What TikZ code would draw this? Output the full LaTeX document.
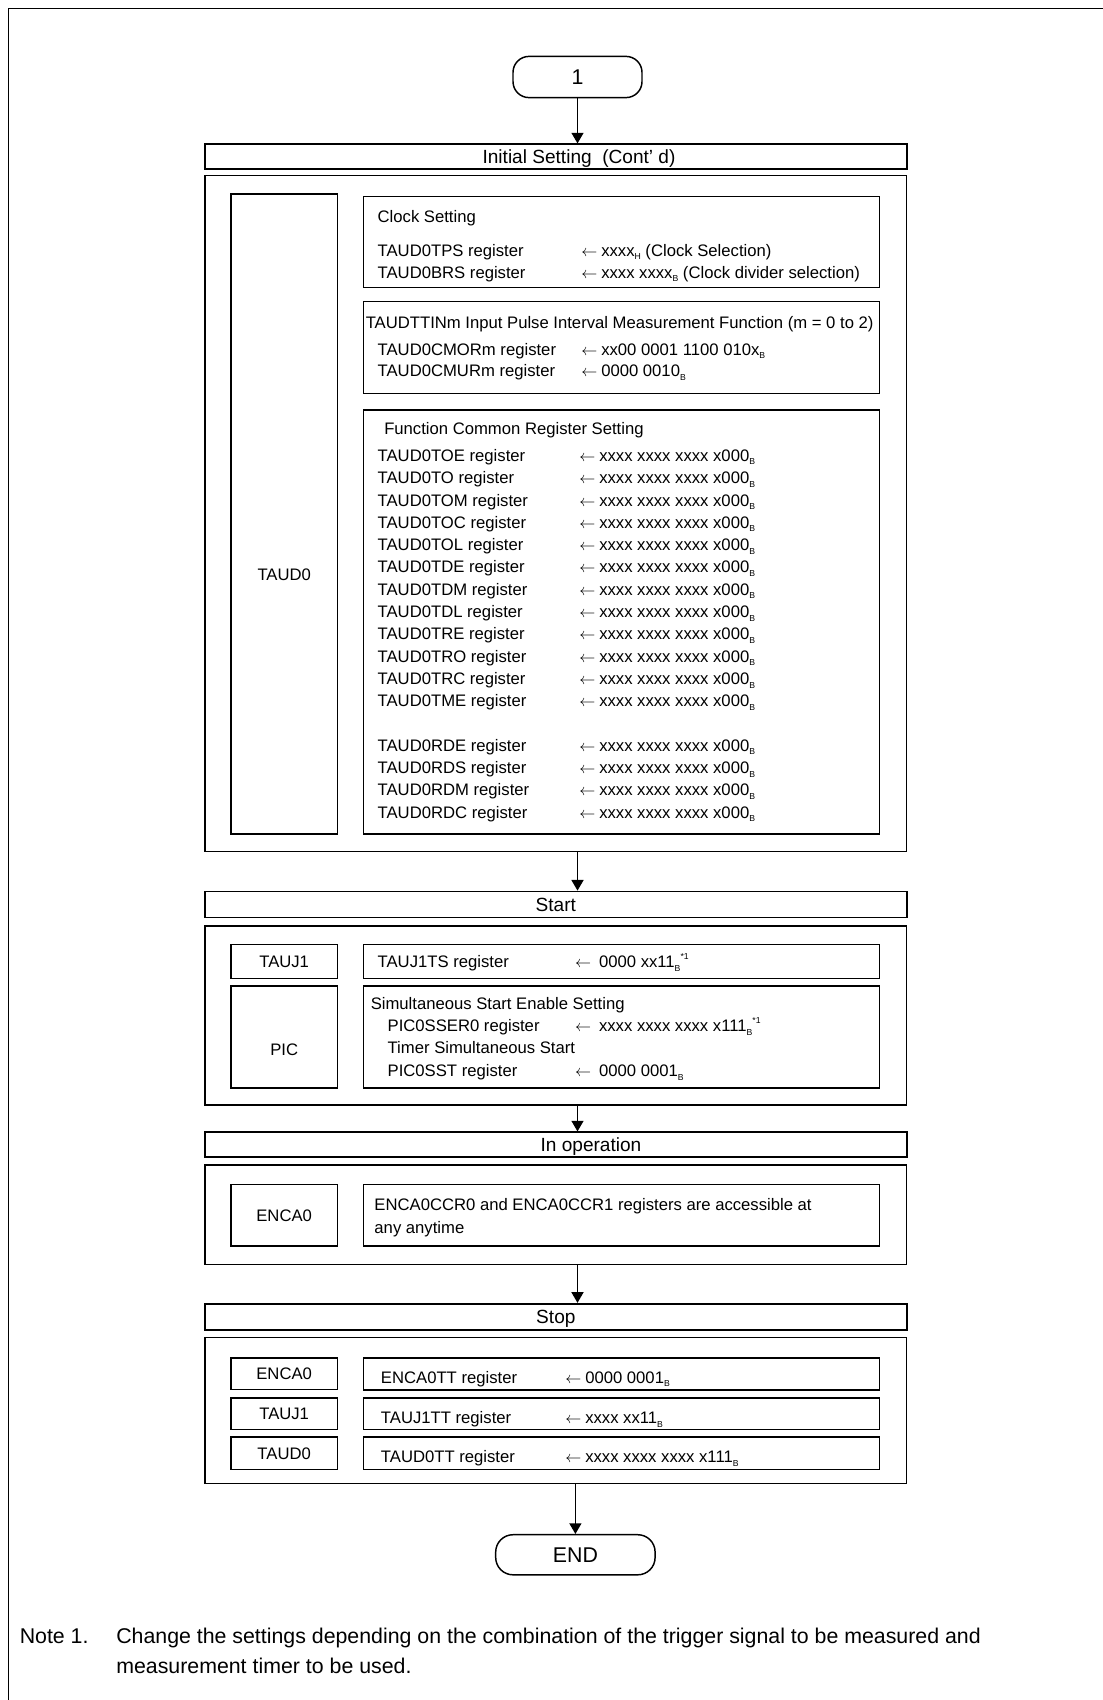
\documentclass[tikz,border=0pt]{standalone}
\usepackage{fontspec}
\setmainfont{Liberation Sans}
\usetikzlibrary{fit,arrows.meta}

\newcommand{\sB}{\raisebox{-0.4ex}{\fontsize{6.5}{6.5}\selectfont B}}
\newcommand{\sH}{\raisebox{-0.4ex}{\fontsize{6.5}{6.5}\selectfont H}}
\newcommand{\nte}{\raisebox{1.0ex}{\fontsize{6.5}{6.5}\selectfont *1}}
\newcommand{\la}{$\leftarrow$\hspace{3pt}}

\tikzset{
 bx/.style={draw, line width=1.1pt, inner sep=0pt},
 hd/.style={draw, line width=1.3pt, inner sep=0pt},
 hdt/.style={inner sep=0pt, font=\fontsize{14.3}{16}\selectfont, text height=10.2pt, text depth=0pt},
 lbt/.style={inner sep=0pt, font=\fontsize{12.5}{14}\selectfont, text height=8.95pt, text depth=0pt},
 tx/.style={anchor=west, inner sep=0pt, font=\fontsize{12.5}{14}\selectfont, text height=8.95pt, text depth=0pt},
 notetx/.style={anchor=west, inner sep=0pt, font=\fontsize{16}{18}\selectfont, text height=11.5pt, text depth=0pt},
 term/.style={draw, line width=1.1pt, rounded corners=12pt, inner sep=0pt},
 termt/.style={inner sep=0pt, font=\fontsize{16}{18}\selectfont, text height=11.5pt, text depth=0pt},
 arr/.style={line width=1.1pt, -{Triangle[length=8pt,width=9pt]}},
}

\begin{document}
\begin{tikzpicture}[x=0.75pt,y=-0.75pt]
\useasboundingbox (0,0) rectangle (1103,1700);
\draw[line width=1.1pt] (8.7,1720) -- (8.7,8.7) -- (1120,8.7);

% start terminal
\node[term, fit={(513,56.4) (642,97.6)}] (t1) {};
\node[termt] (t1t) at (t1.center) {1};

% ---------- Initial setting
\node[hd, fit={(205,144.3) (906.7,169.2)}] (h1) {};
\node[hdt] (h1t) at (579,156.8) {Initial Setting~ (Cont’ d)};
\node[bx, fit={(205,175.7) (906.7,851.4)}] (b1) {};
\node[bx, fit={(231,194.1) (337.3,834.1)}] (taud0) {};
\node[lbt] (taud0t) at (284.2,574.8) {TAUD0};

\node[bx, fit={(363.3,196.3) (879.6,287.4)}] (clk) {};
\node[tx] (clkt) at (377.4,216.9) {Clock Setting};
\node[tx] (tps) at (377.4,250.5) {TAUD0TPS register};
\node[tx] (tpsv) at (581,250.5) {\la xxxx\sH{} (Clock Selection)};
\node[tx] (brs) at (377.4,272.2) {TAUD0BRS register};
\node[tx] (brsv) at (581,272.2) {\la xxxx xxxx\sB{} (Clock divider selection)};

\node[bx, fit={(363.3,301.5) (879.6,393.7)}] (ttin) {};
\node[tx] (ttint) at (365.5,322.1) {TAUDTTINm Input Pulse Interval Measurement Function (m = 0 to 2)};
\node[tx] (cmor) at (377.4,349.2) {TAUD0CMORm register};
\node[tx] (cmorv) at (581,349.2) {\la xx00 0001 1100 010x\sB};
\node[tx] (cmur) at (377.4,370.9) {TAUD0CMURm register};
\node[tx] (cmurv) at (581,370.9) {\la 0000 0010\sB};

\node[bx, fit={(363.3,410) (879.6,834.1)}] (func) {};
\node[tx] (funct) at (384,428.4) {Function Common Register Setting};
\foreach \n/\k in {TOE/0,TO/1,TOM/2,TOC/3,TOL/4,TDE/5,TDM/6,TDL/7,TRE/8,TRO/9,TRC/10,TME/11,RDE/13,RDS/14,RDM/15,RDC/16} {
  \node[tx] (r\n) at (377.4,{455.5+22.3*\k}) {TAUD0\n{} register};
  \node[tx] (v\n) at (579,{455.5+22.3*\k}) {\la xxxx xxxx xxxx x000\sB};
}

% ---------- Start
\node[hd, fit={(205,891.5) (906.7,917.6)}] (h2) {};
\node[hdt] (h2t) at (h2.center) {Start};
\node[bx, fit={(205,926.2) (906.7,1105.2)}] (b2) {};
\node[bx, fit={(231,944.7) (337.3,978.3)}] (tauj1a) {};
\node[lbt] (tauj1at) at (tauj1a.center) {TAUJ1};
\node[bx, fit={(363.3,944.7) (879.6,978.3)}] (tsbox) {};
\node[tx] (ts) at (377.4,962) {TAUJ1TS register};
\node[tx] (tsv) at (574.8,962) {\la\hspace{3pt}0000 xx11\sB\nte};
\node[bx, fit={(231,985.9) (337.3,1087.9)}] (pic) {};
\node[lbt] (pict) at (284.2,1050) {PIC};
\node[bx, fit={(363.3,985.9) (879.6,1087.9)}] (picbox) {};
\node[tx] (sse) at (370.5,1003.3) {Simultaneous Start Enable Setting};
\node[tx] (sser) at (387.4,1026) {PIC0SSER0 register};
\node[tx] (sserv) at (574.8,1026) {\la\hspace{3pt}xxxx xxxx xxxx x111\sB\nte};
\node[tx] (tss) at (387.4,1047.7) {Timer Simultaneous Start};
\node[tx] (sst) at (387.4,1070.5) {PIC0SST register};
\node[tx] (sstv) at (574.8,1070.5) {\la\hspace{3pt}0000 0001\sB};

% ---------- In operation
\node[hd, fit={(205,1132.3) (906.7,1157.3)}] (h3) {};
\node[hdt] (h3t) at (591,1144.8) {In operation};
\node[bx, fit={(205,1164.9) (906.7,1264.6)}] (b3) {};
\node[bx, fit={(231,1184.4) (337.3,1246)}] (enca0a) {};
\node[lbt] (enca0at) at (enca0a.center) {ENCA0};
\node[bx, fit={(363.3,1184.4) (879.6,1246)}] (accbox) {};
\node[tx] (acc1) at (374.2,1205) {ENCA0CCR0 and ENCA0CCR1 registers are accessible at};
\node[tx] (acc2) at (374.2,1227.8) {any anytime};

% ---------- Stop
\node[hd, fit={(205,1303.7) (906.7,1329.7)}] (h4) {};
\node[hdt] (h4t) at (h4.center) {Stop};
\node[bx, fit={(205,1337.3) (906.7,1483.7)}] (b4) {};
\node[bx, fit={(231,1358) (337.3,1389.4)}] (enca0b) {};
\node[lbt] (enca0bt) at (enca0b.center) {ENCA0};
\node[bx, fit={(363.3,1358) (879.6,1390)}] (ettbox) {};
\node[tx] (ett) at (380.7,1377.4) {ENCA0TT register};
\node[tx] (ettv) at (565,1377.4) {\la 0000 0001\sB};
\node[bx, fit={(231,1398) (337.3,1429.5)}] (tauj1b) {};
\node[lbt] (tauj1bt) at (tauj1b.center) {TAUJ1};
\node[bx, fit={(363.3,1398) (879.6,1429.5)}] (jttbox) {};
\node[tx] (jtt) at (380.7,1417.6) {TAUJ1TT register};
\node[tx] (jttv) at (565,1417.6) {\la xxxx xx11\sB};
\node[bx, fit={(231,1437) (337.3,1469.6)}] (taud0b) {};
\node[lbt] (taud0bt) at (taud0b.center) {TAUD0};
\node[bx, fit={(363.3,1437) (879.6,1469.6)}] (dttbox) {};
\node[tx] (dtt) at (380.7,1456.6) {TAUD0TT register};
\node[tx] (dttv) at (565,1456.6) {\la xxxx xxxx xxxx x111\sB};

% end terminal
\node[term, rounded corners=13pt, fit={(495.7,1534.7) (655.1,1574.8)}] (endn) {};
\node[termt] (endt) at (endn.center) {END};

% connectors
\draw[arr] (t1.south) -- (h1.north -| t1.south);
\draw[arr] (b1.south -| t1.south) -- (h2.north -| t1.south);
\draw[arr] (b2.south -| t1.south) -- (h3.north -| t1.south);
\draw[arr] (b3.south -| t1.south) -- (h4.north -| t1.south);
\draw[arr] (b4.south -| endn.north) -- (endn.north);

% note
\node[notetx] (note) at (19.5,1635.6) {Note 1.};
\node[notetx] (note1) at (116,1635.6) {Change the settings depending on the combination of the trigger signal to be measured and};
\node[notetx] (note2) at (116,1666) {measurement timer to be used.};
\end{tikzpicture}
\end{document}
